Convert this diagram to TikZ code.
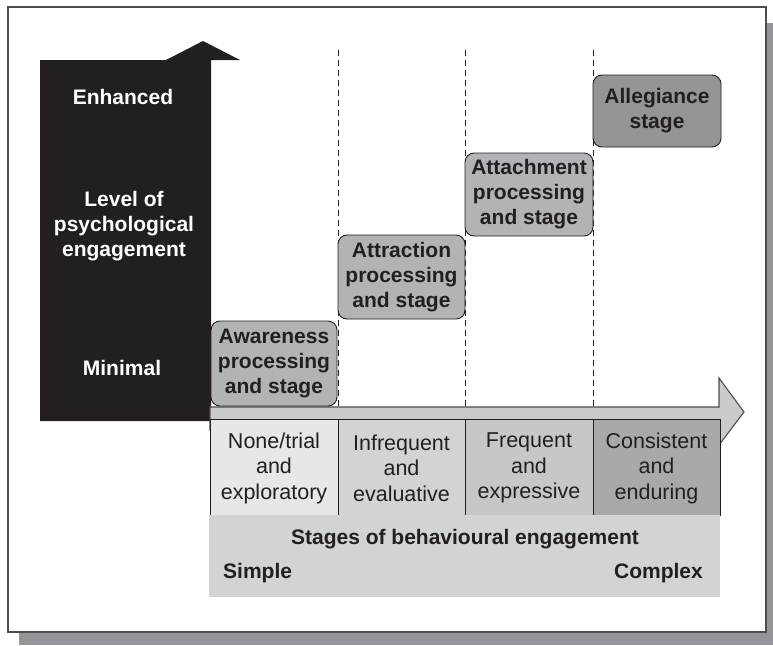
\documentclass[tikz,border=0pt]{standalone}
\usepackage{fontspec}
\setmainfont{Liberation Sans}
\definecolor{ink}{HTML}{231F20}
\definecolor{framecol}{HTML}{4D4D4F}
\definecolor{shadowcol}{HTML}{939598}
\definecolor{argray}{HTML}{C9CACC}
\definecolor{cellA}{HTML}{E6E7E8}
\definecolor{cellB}{HTML}{D1D3D4}
\definecolor{cellC}{HTML}{C6C7C9}
\definecolor{cellD}{HTML}{A7A9AC}
\definecolor{panel}{HTML}{D1D3D4}
\definecolor{boxmid}{HTML}{B1B3B6}
\definecolor{boxdark}{HTML}{939598}
\begin{document}
\begin{tikzpicture}[x=1pt,y=-1pt,
  bigtxt/.style={font=\fontsize{21}{25}\selectfont\bfseries, align=center, inner sep=0pt},
  wlabel/.style={bigtxt, text=white},
  celltxt/.style={font=\fontsize{21.5}{25.5}\selectfont, align=center, inner sep=0pt, text=ink},
  stagebox/.style={bigtxt, text=ink, draw=ink, line width=0.9, rounded corners=9, fill=boxmid},
  cellbox/.style={draw=ink, line width=0.9},
  divider/.style={draw=ink, line width=0.8, dash pattern=on 6pt off 4pt}
]
\useasboundingbox (0,0) rectangle (773,645);

% drop shadow and frame
\fill[shadowcol] (19,23) rectangle (773,645);
\draw[framecol, line width=1.3, fill=white] (8,7) rectangle (766,632);

% vertical arrow: level of psychological engagement
\fill[ink] (40,421) -- (40,60) -- (166,60) -- (203,41) -- (240,60) -- (211,60) -- (211,421) -- cycle;
\node[wlabel] (enh) at (123,97) {Enhanced};
\node[wlabel] (lvl) at (124,226) {Level of\\psychological\\engagement};
\node[wlabel] (minl) at (122,368) {Minimal};

% dividing lines between stages
\coordinate (d1t) at (338,50);  \coordinate (d1b) at (338,407);
\coordinate (d2t) at (465,50);  \coordinate (d2b) at (465,407);
\coordinate (d3t) at (593,50);  \coordinate (d3b) at (593,407);
\draw[divider] (d1t) -- (d1b);
\draw[divider] (d2t) -- (d2b);
\draw[divider] (d3t) -- (d3b);

% horizontal arrow: behavioural engagement
\filldraw[fill=argray, draw=framecol, line width=1.1]
  (210,430) -- (210,407) -- (719,407) -- (719,378) -- (744,412) -- (719,445) -- (719,430) -- cycle;

% behaviour cells
\filldraw[cellbox, fill=cellA] (210,419) rectangle (338,515);
\filldraw[cellbox, fill=cellB] (338,419) rectangle (465,515);
\filldraw[cellbox, fill=cellC] (465,419) rectangle (593,515);
\filldraw[cellbox, fill=cellD] (593,419) rectangle (720,515);
\node[celltxt] (c1) at (274,468) {None/trial\\and\\exploratory};
\node[celltxt] (c2) at (401.5,468) {Infrequent\\and\\evaluative};
\node[celltxt] (c3) at (529,468) {Frequent\\and\\expressive};
\node[celltxt] (c4) at (656.5,468) {Consistent\\and\\enduring};

% caption panel
\fill[panel] (209,515) rectangle (720,597);
\node[bigtxt, text=ink] (cap) at (465,539) {Stages of behavioural engagement};
\node[bigtxt, text=ink, anchor=west] (simple) at (223,573) {Simple};
\node[bigtxt, text=ink, anchor=east] (complex) at (703,573) {Complex};

% psychological stages
\node[stagebox, minimum width=126, minimum height=85] (aw) at (274,363.5) {Awareness\\processing\\and stage};
\node[stagebox, minimum width=127, minimum height=84] (at) at (401.5,277) {Attraction\\processing\\and stage};
\node[stagebox, minimum width=128, minimum height=83] (ah) at (529,194.5) {Attachment\\processing\\and stage};
\node[stagebox, fill=boxdark, minimum width=128, minimum height=72] (al) at (657,111) {Allegiance\\stage};
\end{tikzpicture}
\end{document}
